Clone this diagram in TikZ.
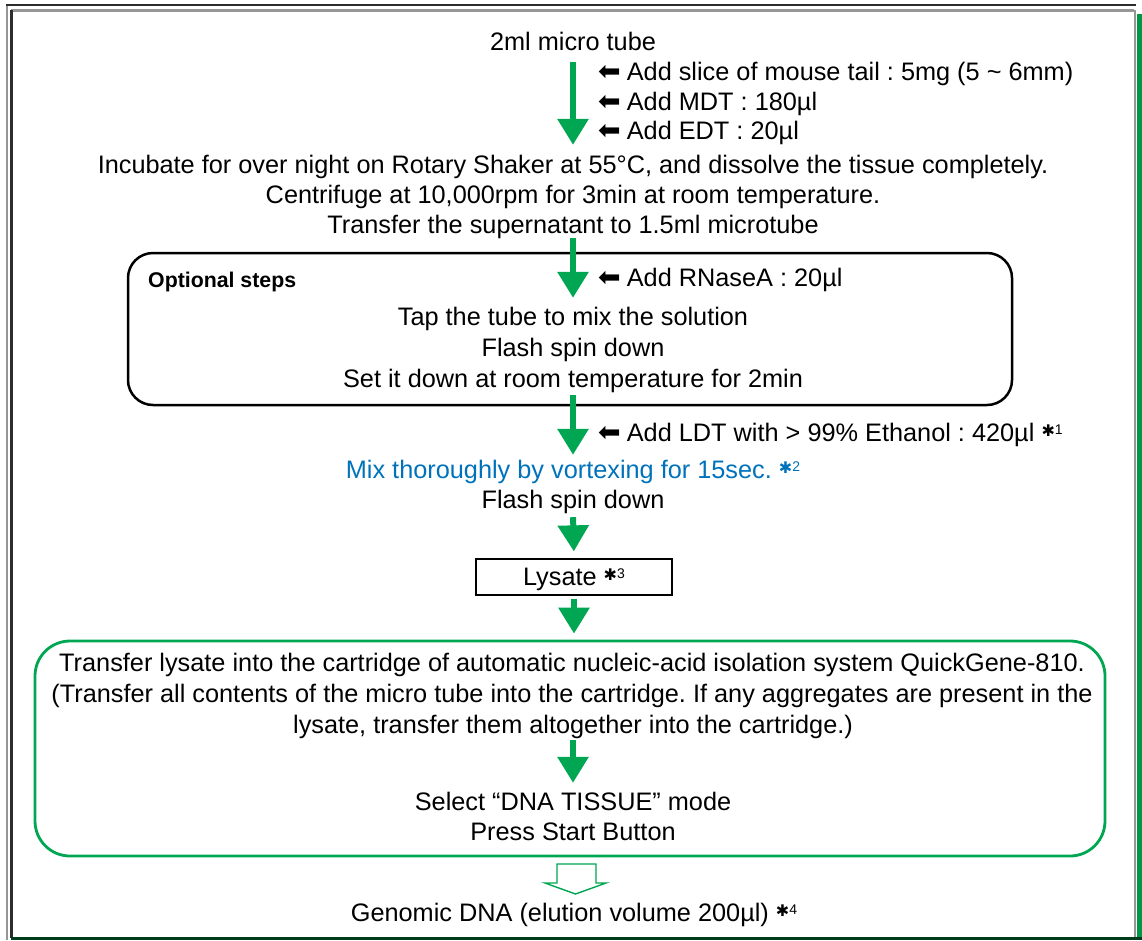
\documentclass[tikz,border=0pt]{standalone}
\usepackage{fontspec}
\setmainfont{Liberation Sans}
\newfontfamily\symfont{DejaVu Sans}
\usetikzlibrary{arrows.meta}
\frenchspacing
\definecolor{flowgreen}{RGB}{0,166,81}
\definecolor{noteblue}{RGB}{0,114,188}
\definecolor{framedark}{RGB}{45,45,45}
\definecolor{framegray}{RGB}{150,150,150}
\definecolor{stripgreen}{RGB}{0,150,70}
% small black arrow in front of each addition
\newcommand\addmark{{\symfont\fontsize{27}{27}\selectfont ⬅}\hspace{6pt}}
% footnote marker: asterisk with a small raised number
\newcommand\fnote[1]{\hspace{7pt}{\symfont\fontsize{16}{16}\selectfont\raisebox{5pt}{✱}}\raisebox{7pt}{\fontsize{14}{14}\selectfont #1}}
\begin{document}
\begin{tikzpicture}[x=1pt,y=-1pt,
  txt/.style={font=\fontsize{25.3}{25.3}\selectfont, inner sep=0pt, text height=17pt, text depth=5pt, anchor=base},
  side/.style={txt, anchor=base west},
  garrow/.style={draw=flowgreen, line width=6pt, -{Triangle[width=30pt,length=26pt]}},
  frame/.style={line width=2.2pt}]
\useasboundingbox (0,0) rectangle (1142,940);

% page frame
\draw[frame, framegray] (7,5) -- (7,940);
\draw[frame, framedark] (6,5) -- (1136,5);
\draw[frame, framegray] (11,10.5) -- (1134,10.5);
\draw[frame, framedark] (11.5,10) -- (11.5,938);
\draw[frame, framegray] (1135,10) -- (1135,938);
\fill[stripgreen] (1137,14) rectangle (1142,940);
\draw[line width=3pt, black!60!stripgreen] (11,938.5) -- (1142,938.5);

% boxes
\node[draw, line width=2.5pt, rounded corners=25pt, minimum width=884pt, minimum height=152pt, inner sep=0pt] (optbox) at (570,329) {};
\node[draw=flowgreen, line width=2.8pt, rounded corners=35pt, minimum width=1070pt, minimum height=215pt, inner sep=0pt] (gbox) at (570,748.5) {};
\node[draw, line width=1.3pt, minimum width=196pt, minimum height=36pt, inner sep=0pt,
      font=\fontsize{25.3}{25.3}\selectfont, text height=17pt, text depth=0pt] (lysate) at (574,577) {Lysate\fnote{3}};

% texts
\node[txt] (tube) at (573,50) {2ml micro tube};
\node[side] (n1) at (598,80) {\addmark Add slice of mouse tail : 5mg (5 \textasciitilde\ 6mm)};
\node[side] (n2) at (598,110) {\addmark Add MDT : 180µl};
\node[side] (n3) at (598,139) {\addmark Add EDT : 20µl};
\node[txt] (incub) at (573,173) {Incubate for over night on Rotary Shaker at 55°C, and dissolve the tissue completely.};
\node[txt] (centri) at (573,203) {Centrifuge at 10,000rpm for 3min at room temperature.};
\node[txt] (super) at (573,233) {Transfer the supernatant to 1.5ml microtube};
\node[anchor=base west, inner sep=0pt, font=\bfseries\fontsize{21.3}{21.3}\selectfont] (optlabel) at (148,287) {Optional steps};
\node[side] (n4) at (598,286) {\addmark Add RNaseA : 20µl};
\node[txt] (tap) at (573,325) {Tap the tube to mix the solution};
\node[txt] (flash1) at (573,356) {Flash spin down};
\node[txt] (setdown) at (573,387) {Set it down at room temperature for 2min};
\node[side] (n5) at (598,441) {\addmark Add LDT with > 99\% Ethanol : 420µl\fnote{1}};
\node[txt, text=noteblue] (mix) at (573,478) {Mix thoroughly by vortexing for 15sec.\fnote{2}};
\node[txt] (flash2) at (573,508) {Flash spin down};
\node[txt] (tr1) at (572,671) {Transfer lysate into the cartridge of automatic nucleic-acid isolation system QuickGene-810.};
\node[txt] (tr2) at (572,702) {(Transfer all contents of the micro tube into the cartridge. If any aggregates are present in the};
\node[txt] (tr3) at (573,733) {lysate, transfer them altogether into the cartridge.)};
\node[txt] (select) at (573,810) {Select “DNA TISSUE” mode};
\node[txt] (press) at (573,840) {Press Start Button};
\node[txt] (genomic) at (574,921) {Genomic DNA (elution volume 200µl)\fnote{4}};

% green flow arrows
\draw[garrow, shorten <=7pt, shorten >=11pt] (tube.south) -- (incub.north);
\draw[garrow, shorten <=0pt, shorten >=10pt] (super.south) -- (tap.north);
\draw[garrow, shorten <=3pt, shorten >=6pt] (setdown.south) -- (mix.north);
\draw[garrow, shorten <=4pt, shorten >=7pt] (flash2.south) -- (lysate.north);
\draw[garrow, shorten <=3pt, shorten >=6pt] (lysate.south) -- (lysate.south |- gbox.north);
\draw[garrow, shorten <=2pt, shorten >=10pt] (tr3.south) -- (select.north);

% hollow output arrow
\draw[flowgreen, line width=1.4pt, line join=miter]
  (557,864) -- (596,864) -- (596,883) -- (606,883) -- (575.5,894) -- (545,883) -- (557,883) -- cycle;
\end{tikzpicture}
\end{document}
